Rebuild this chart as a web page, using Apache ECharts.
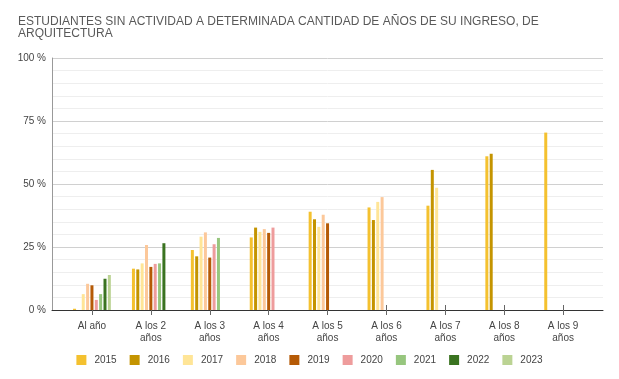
<!DOCTYPE html>
<html>
<head>
<meta charset="utf-8">
<script src="https://cdn.jsdelivr.net/npm/echarts@6/dist/echarts.min.js"></script>
<style>html,body{margin:0;padding:0;background:#fff}#c{width:619px;height:379px}</style>
</head>
<body>
<div id="c"></div>
<script>
const categories = ["Al año", "A los 2\naños", "A los 3\naños", "A los 4\naños", "A los 5\naños", "A los 6\naños", "A los 7\naños", "A los 8\naños", "A los 9\naños"];
const years = ["2015", "2016", "2017", "2018", "2019", "2020", "2021", "2022", "2023"];
const colors = ["#f4c12f", "#c49400", "#ffe597", "#fcc89a", "#b55a06", "#ee9c9c", "#97c67e", "#3a7320", "#bbd393"];
const yTicks = [0, 25, 50, 75, 100];
const v2015 = [0.5, 16.4, 23.8, 28.8, 39.0, 40.7, 41.4, 61.0, 70.4];
const v2016 = [0, 16.1, 21.3, 32.7, 36.0, 35.7, 55.6, 62.0, null];
const v2017 = [6.3, 18.5, 29.1, 31.0, 33.0, 42.9, 48.5, null, null];
const v2018 = [10.4, 25.8, 30.8, 32.1, 37.8, 44.8, null, null, null];
const v2019 = [9.8, 17.1, 20.8, 30.6, 34.4, null, null, null, null];
const v2020 = [4.0, 18.3, 26.1, 32.7, null, null, null, null, null];
const v2021 = [6.3, 18.5, 28.6, null, null, null, null, null, null];
const v2022 = [12.4, 26.5, null, null, null, null, null, null, null];
const v2023 = [13.9, null, null, null, null, null, null, null, null];
const values = [v2015, v2016, v2017, v2018, v2019, v2020, v2021, v2022, v2023];

const FONT = "Liberation Sans, Arial, sans-serif";
const chart = echarts.init(document.getElementById('c'), null, {renderer: 'canvas'});
const series = years.map((y, i) => ({
  name: y,
  type: 'bar',
  xAxisIndex: 0,
  yAxisIndex: 1,
  barWidth: 3,
  barGap: '45%',
  itemStyle: {color: colors[i]},
  data: values[i]
}));
chart.setOption({
  animation: false,
  color: colors,
  title: {
    text: "ESTUDIANTES SIN ACTIVIDAD A DETERMINADA CANTIDAD DE AÑOS DE SU INGRESO, DE\nARQUITECTURA",
    left: 18, top: 16, padding: 0,
    textStyle: {fontFamily: FONT, fontSize: 12, lineHeight: 12, fontWeight: 'normal', color: '#595959'}
  },
  legend: {
    data: years,
    left: 'center', top: 350,
    itemWidth: 10, itemHeight: 10, itemGap: 13,
    icon: 'rect',
    textStyle: {fontFamily: FONT, fontSize: 10, color: '#444', padding: [0, 0, 0, 3]}
  },
  grid: [
    {left: 52, right: 16, top: 58, bottom: 69, containLabel: false},
    {left: 62.5, right: 26.4, top: 58, bottom: 69, containLabel: false}
  ],
  xAxis: [
    {type: 'category', gridIndex: 1, data: categories, position: 'bottom',
     axisLine: {show: false},
     axisTick: {show: true, length: 5, alignWithLabel: true, lineStyle: {color: '#666'}},
     axisLabel: {fontFamily: FONT, fontSize: 10, lineHeight: 12, color: '#444', margin: 10, interval: 0}
    },
    {type: 'category', gridIndex: 1, data: categories, position: 'bottom',
     axisLine: {show: false},
     axisTick: {show: true, inside: true, length: 5, alignWithLabel: true, lineStyle: {color: '#666'}},
     axisLabel: {show: false}
    },
    {type: 'value', gridIndex: 0, min: 0, max: 1, position: 'bottom',
     axisLine: {show: true, lineStyle: {color: '#333', width: 1}},
     axisTick: {show: false}, axisLabel: {show: false}, splitLine: {show: false}
    }
  ],
  yAxis: [
    {type: 'value', gridIndex: 0, min: 0, max: 100, interval: 25,
     axisLine: {show: true, lineStyle: {color: '#999'}},
     axisTick: {show: false},
     axisLabel: {fontFamily: FONT, fontSize: 10, color: '#444', margin: 6,
       formatter: v => yTicks.indexOf(v) >= 0 ? v + ' %' : ''},
     splitLine: {show: true, lineStyle: {color: '#d0d0d0'}},
     minorTick: {show: false, splitNumber: 5},
     minorSplitLine: {show: true, lineStyle: {color: '#eeeeee'}}
    },
    {type: 'value', gridIndex: 1, min: 0, max: 100, show: false}
  ],
  series: series
});
</script>
</body>
</html>
